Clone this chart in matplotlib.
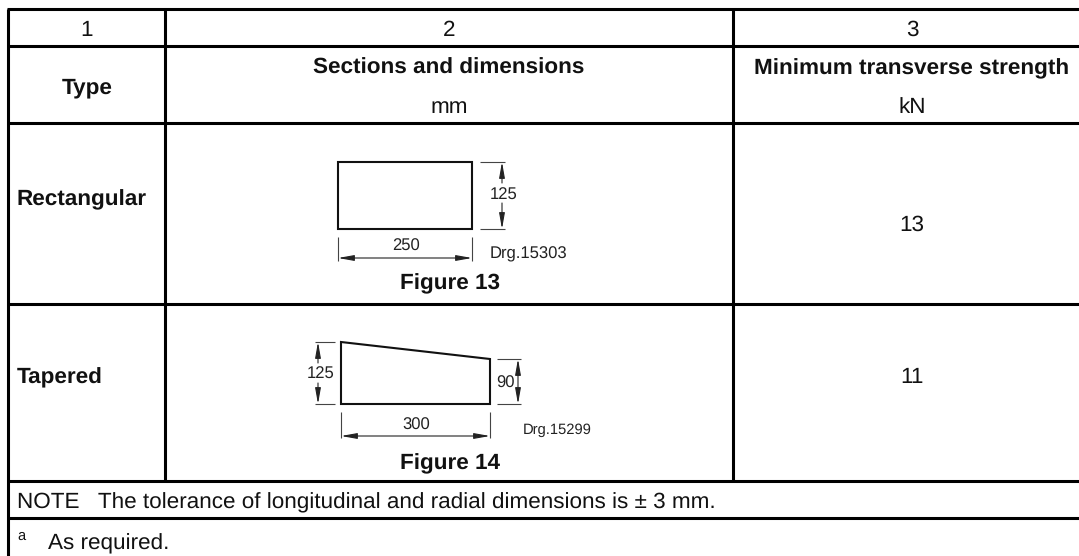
import matplotlib.pyplot as plt
from matplotlib.patches import Polygon

plt.rcParams['font.family'] = ['Liberation Sans', 'DejaVu Sans']
plt.rcParams['text.hinting'] = 'no_hinting'

# ---------------- CONFIG ----------------
W, H = 1079, 556
FONT = 16.2
GRID_W = 2.2
# ---------------------------------------

# table text
column_numbers = ["1", "2", "3"]
column_heads = ["Type", "Sections and dimensions", "Minimum transverse strength"]
column_units = ["mm", "kN"]
row_types = ["Rectangular", "Tapered"]
row_strengths = ["13", "11"]
figure_names = ["Figure 13", "Figure 14"]
note_text = "NOTE   The tolerance of longitudinal and radial dimensions is \u00b1 3 mm."
footnote_mark = "a"
footnote_text = "As required."

# table rules, pixels from the top left corner
col_x = [8, 165, 733]
row_y = [8.5, 46, 123, 304, 481, 518]

# drawing outlines
rect_outline = [(338, 162), (472, 162), (472, 229), (338, 229)]
taper_outline = [(341, 342), (490, 359), (490, 404), (341, 404)]

fig = plt.figure(figsize=(W/100, H/100), dpi=100)
ax = fig.add_axes([0, 0, 1, 1])
ax.set_xlim(0, W)
ax.set_ylim(H, 0)
ax.axis('off')


def rule(x0, y0, x1, y1, lw=GRID_W):
    ax.plot([x0, x1], [y0, y1], color="black", lw=lw, solid_capstyle='butt')


def thin(x0, y0, x1, y1):
    ax.plot([x0, x1], [y0, y1], color="#444444", lw=0.8, solid_capstyle='butt')


def arrow(x0, y0, x1, y1, style="<|-"):
    # dimension line, the head sits on x0,y0 (or both ends)
    ax.annotate("", xy=(x1, y1), xytext=(x0, y0),
                arrowprops=dict(arrowstyle=style + ",head_length=0.95,head_width=0.17", color="#222222",
                                lw=0.8, shrinkA=0, shrinkB=0))


def label(x, y, s, ha='center', bold=False, size=FONT):
    ax.text(x, y, s, ha=ha, va='baseline', fontsize=size, color="#111111",
            fontweight='bold' if bold else 'normal')


def dim_text(x, y, s, size=12):
    ax.text(x, y + 1.5, s, ha='center', va='center', fontsize=size, color="#222222")


# ---------------- TABLE ----------------
for y in row_y:
    rule(col_x[0] - 1.5, y, W, y)
rule(col_x[0], row_y[0], col_x[0], H)
rule(col_x[1], row_y[0], col_x[1], row_y[4])
rule(col_x[2], row_y[0], col_x[2], row_y[4])

label(87, 36, column_numbers[0])
label(449, 36, column_numbers[1])
label(912, 36, column_numbers[2])
label(87, 93, column_heads[0], bold=True)
label(449, 74, column_heads[1], bold=True)
label(912, 74, column_heads[2], bold=True)
label(449, 113, column_units[0])
label(912, 113, column_units[1])

label(17, 205, row_types[0], ha='left', bold=True)
label(17, 383, row_types[1], ha='left', bold=True)
label(912, 231, row_strengths[0])
label(912, 383, row_strengths[1])
label(450, 289, figure_names[0], bold=True)
label(450, 469, figure_names[1], bold=True)

label(17, 508, note_text, ha='left')
label(17, 540, footnote_mark, ha='left', size=10.5)
label(48, 549, footnote_text, ha='left')

# ---------------- FIGURE 13 ----------------
ax.add_patch(Polygon(rect_outline, closed=True, fill=False, edgecolor="#111111", lw=1.5))
thin(480, 162, 505, 162)
thin(480, 229, 505, 229)
arrow(502, 162, 502, 183)
arrow(502, 229, 502, 203)
thin(338, 237, 338, 261)
thin(472, 237, 472, 261)
arrow(338, 258, 472, 258, "<|-|>")
dim_text(504, 194, "125")
dim_text(406, 245, "250")
dim_text(528, 253, "Drg.15303")

# ---------------- FIGURE 14 ----------------
ax.add_patch(Polygon(taper_outline, closed=True, fill=False, edgecolor="#111111", lw=1.5))
thin(315, 342, 335, 342)
thin(315, 404, 335, 404)
arrow(318, 342, 318, 363)
arrow(318, 404, 318, 383)
thin(497, 359, 521, 359)
thin(497, 404, 521, 404)
arrow(518, 359, 518, 404, "<|-|>")
thin(341, 412, 341, 438)
thin(490, 412, 490, 438)
arrow(341, 436, 490, 436, "<|-|>")
dim_text(321, 373, "125")
dim_text(505, 382, "90")
dim_text(416, 424, "300")
dim_text(557, 429, "Drg.15299", 10.6)

fig.savefig("out.png", dpi=100)
